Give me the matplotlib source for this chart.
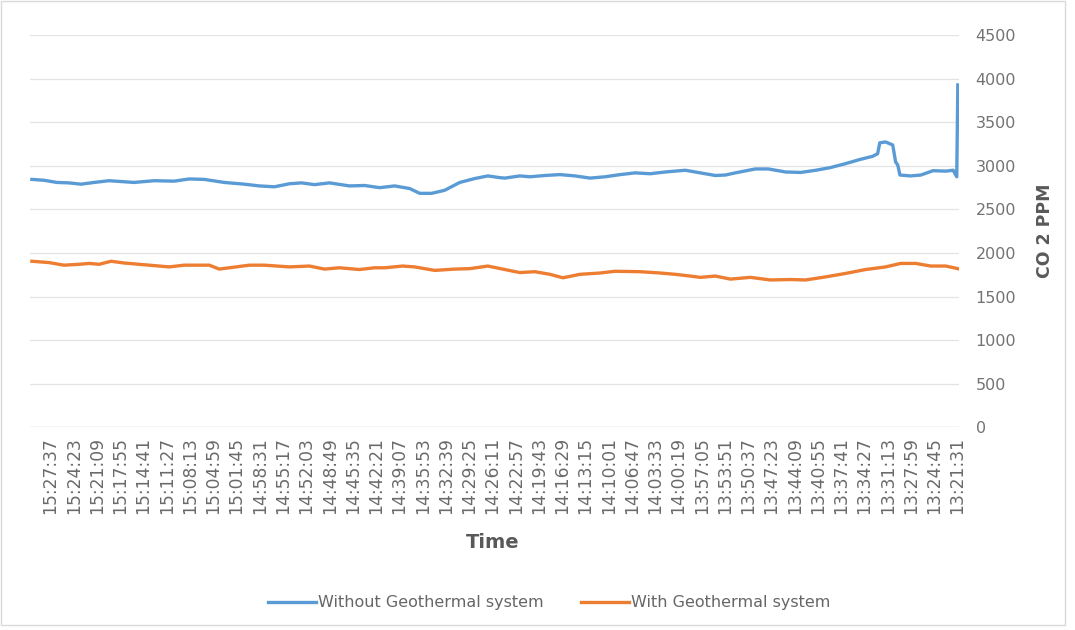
import numpy as np
import matplotlib
matplotlib.use("Agg")
import matplotlib.pyplot as plt
from matplotlib.patches import Rectangle

# tick labels on the time axis (clock time runs backwards left to right)
time_labels = ['15:27:37', '15:24:23', '15:21:09', '15:17:55', '15:14:41', '15:11:27',
               '15:08:13', '15:04:59', '15:01:45', '14:58:31', '14:55:17', '14:52:03',
               '14:48:49', '14:45:35', '14:42:21', '14:39:07', '14:35:53', '14:32:39',
               '14:29:25', '14:26:11', '14:22:57', '14:19:43', '14:16:29', '14:13:15',
               '14:10:01', '14:06:47', '14:03:33', '14:00:19', '13:57:05', '13:53:51',
               '13:50:37', '13:47:23', '13:44:09', '13:40:55', '13:37:41', '13:34:27',
               '13:31:13', '13:27:59', '13:24:45', '13:21:31']

record_start = '15:30:13'

# minutes elapsed since record_start, and CO2 ppm readings
without_min = [0.0, 1.67, 3.48, 5.16, 6.83, 8.64, 10.73, 14.21, 17.0, 19.79, 21.87, 23.97,
               26.75, 29.54, 31.63, 33.72, 35.81, 37.48, 39.29, 41.38, 44.17, 46.26, 48.35,
               50.44, 52.53, 53.92, 55.59, 57.40, 59.49, 61.58, 63.4, 65.07, 65.76, 67.85,
               69.25, 71.34, 73.43, 75.52, 77.61, 79.70, 81.79, 83.88, 85.97, 88.06, 90.85,
               92.94, 95.03, 96.42, 97.81, 100.6, 102.4, 104.8, 106.9, 109.0, 111.0, 113.1,
               115.2, 116.9, 117.6, 117.9, 118.7, 119.7, 120.1, 120.4, 120.7, 122.2, 123.6,
               125.3, 127.1, 128.1, 128.6, 128.75]
without_ppm = [2845, 2835, 2810, 2805, 2790, 2810, 2830, 2810, 2830, 2825, 2850, 2845,
               2810, 2790, 2770, 2760, 2795, 2805, 2785, 2805, 2770, 2775, 2750,
               2770, 2740, 2685, 2685, 2720, 2810, 2855, 2885, 2865, 2860, 2885,
               2875, 2890, 2900, 2885, 2860, 2875, 2900, 2920, 2910, 2930, 2950,
               2920, 2890, 2895, 2920, 2965, 2965, 2930, 2925, 2950, 2980, 3025,
               3075, 3110, 3140, 3265, 3275, 3240, 3045, 3010, 2895, 2885, 2895,
               2945, 2940, 2950, 2875, 3930]

with_min = [0.0, 2.37, 4.46, 6.55, 7.94, 9.34, 11.01, 12.82, 14.91, 16.30, 19.09, 21.18,
            24.66, 26.06, 27.45, 30.24, 32.32, 35.81, 38.59, 40.68, 42.77, 45.56, 47.65,
            49.04, 51.55, 53.22, 56.01, 58.79, 60.88, 63.39, 65.76, 67.85, 69.94, 72.03,
            73.84, 76.21, 79.0, 81.09, 84.57, 87.36, 89.45, 91.54, 92.94, 95.03, 97.12,
            99.90, 102.69, 105.47, 107.56, 110.35, 113.14, 115.92, 118.71, 120.80, 122.89,
            124.98, 127.07, 128.75]
with_ppm = [1905, 1890, 1860, 1870, 1880, 1870, 1905, 1885, 1870, 1860, 1840, 1860,
            1860, 1815, 1830, 1860, 1860, 1840, 1850, 1815, 1830, 1810, 1830,
            1830, 1850, 1840, 1800, 1815, 1820, 1850, 1810, 1775, 1785, 1755,
            1715, 1755, 1770, 1790, 1785, 1770, 1755, 1735, 1720, 1735, 1700,
            1720, 1690, 1695, 1690, 1725, 1765, 1810, 1840, 1880, 1880,
            1850, 1850, 1820]


def to_sec(s):
    h, m, sec = s.split(':')
    return int(h) * 3600 + int(m) * 60 + int(sec)


t0 = to_sec(record_start)
x_without = t0 - np.array(without_min) * 60
x_with = t0 - np.array(with_min) * 60
tick_pos = [to_sec(s) for s in time_labels]

fig = plt.figure(figsize=(10.75, 6.3), dpi=100)
ax = fig.add_axes([0.028, 0.322, 0.864, 0.622])

blue = '#5B9BD5'
orange = '#ED7D31'
ax.plot(x_without, without_ppm, color=blue, lw=2.4, label='Without Geothermal system',
        solid_joinstyle='round')
ax.plot(x_with, with_ppm, color=orange, lw=2.4, label='With Geothermal system',
        solid_joinstyle='round')

ax.set_xlim(t0 + 15, t0 - 128.9 * 60)
ax.set_ylim(0, 4500)
ax.set_yticks(np.arange(0, 4501, 500))
ax.set_xticks(tick_pos)
ax.set_xticklabels(time_labels, rotation=90, fontsize=12.3, color='#6a6a6a')

ax.yaxis.tick_right()
ax.yaxis.set_label_position('right')
ax.tick_params(axis='y', length=0, pad=12, labelsize=11.5, labelcolor='#737373')
ax.tick_params(axis='x', length=0, pad=7)
ax.grid(axis='y', color='#e3e3e3', lw=0.9)
for sp in ax.spines.values():
    sp.set_visible(False)
ax.axhline(0, color='#d9d9d9', lw=1)

ax.set_ylabel('CO 2 PPM', fontsize=12.5, fontweight='bold', color='#595959', labelpad=14)
fig.text(0.4585, 0.139, 'Time', fontsize=14, fontweight='bold', color='#595959',
         ha='center', va='center')

fig.legend(loc='center', bbox_to_anchor=(0.511, 0.043), ncol=2, frameon=False,
           fontsize=11.5, handlelength=3.0, handletextpad=0.15, columnspacing=2.3,
           labelcolor='#666666')

# faint outer frame
fig.patches.append(Rectangle((0.001, 0.008), 0.99, 0.99, transform=fig.transFigure,
                             fill=False, edgecolor='#d9d9d9', lw=1))

fig.savefig('out.png', dpi=100)
